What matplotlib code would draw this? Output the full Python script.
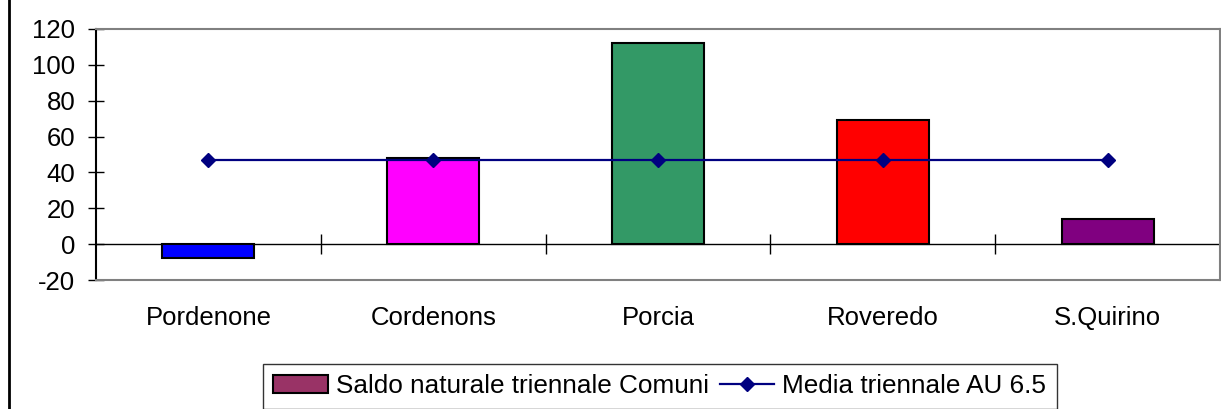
import matplotlib.pyplot as plt
from matplotlib.lines import Line2D
from matplotlib.patches import Patch
import numpy as np

plt.rcParams["font.family"] = ["Liberation Sans", "DejaVu Sans"]
plt.rcParams["axes.unicode_minus"] = False

comuni = ["Pordenone", "Cordenons", "Porcia", "Roveredo", "S.Quirino"]
saldo = [-8, 48, 112, 69, 14]
media = [47, 47, 47, 47, 47]
bar_colors = ["#0000FF", "#FF00FF", "#339966", "#FF0000", "#800080"]
y_ticks = [-20, 0, 20, 40, 60, 80, 100, 120]

W, H = 1221, 409
fig = plt.figure(figsize=(W / 100, H / 100), dpi=100)
ax = fig.add_axes([96 / W, 1 - 280 / H, (1220 - 96) / W, (280 - 29) / H])

x = np.arange(len(comuni))
ax.bar(x, saldo, width=0.41, color=bar_colors, edgecolor="black", linewidth=1.5, zorder=3)
ax.axhline(0, color="black", linewidth=1, zorder=2)
# category separators on the zero line
ax.plot(x[:-1] + 0.5, [0] * (len(comuni) - 1), linestyle="none", marker="|",
        markersize=15, markeredgewidth=1, color="black", zorder=2)
ax.plot(x, media, color="#000080", linewidth=1.6, marker="D", markersize=7, zorder=4)

ax.set_xlim(-0.5, len(comuni) - 0.5)
ax.set_ylim(-20, 120)
ax.set_yticks(y_ticks)
ax.set_xticks(x)
ax.set_xticklabels(comuni)
ax.tick_params(axis="x", length=0, pad=19, labelsize=18.5)
ax.tick_params(axis="y", direction="inout", length=12, width=1, labelsize=18.5, pad=9)

for s in ["top", "right", "bottom"]:
    ax.spines[s].set_color("#808080")
    ax.spines[s].set_linewidth(1.5)
ax.spines["left"].set_color("black")
ax.spines["left"].set_linewidth(1.5)

handles = [
    Patch(facecolor="#993366", edgecolor="black", linewidth=1.5, label="Saldo naturale triennale Comuni"),
    Line2D([], [], color="#000080", linewidth=1.6, marker="D", markersize=7, label="Media triennale AU 6.5"),
]
leg = fig.legend(handles=handles, loc="upper left", bbox_to_anchor=(263 / W, 1 - 364 / H),
                 ncol=2, fontsize=18.8, frameon=True, fancybox=False, handlelength=2.1,
                 handleheight=0.7, handletextpad=0.3, columnspacing=0.4, borderpad=0.4,
                 borderaxespad=0)
leg.get_frame().set_edgecolor("black")
leg.get_frame().set_linewidth(1)

fig.add_artist(Line2D([9 / W, 9 / W], [0, 1], color="black", linewidth=2, transform=fig.transFigure))

fig.savefig("out.png", dpi=100)
